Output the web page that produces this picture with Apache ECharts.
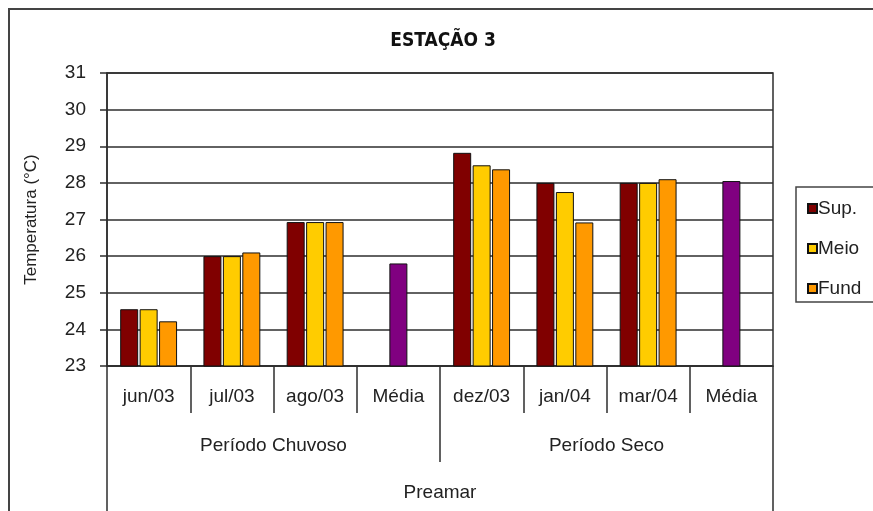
<!DOCTYPE html>
<html>
<head>
<meta charset="utf-8">
<script src="https://cdn.jsdelivr.net/npm/echarts@6/dist/echarts.min.js"></script>
<style>
  html, body { margin: 0; padding: 0; background: #fff; }
  #chart { width: 873px; height: 511px; }
</style>
</head>
<body>
<div id="chart"></div>
<script>
// Water temperature by depth, station 3, high tide (Preamar)
const months = ['jun/03', 'jul/03', 'ago/03', 'Média', 'dez/03', 'jan/04', 'mar/04', 'Média'];
const periods = ['Período Chuvoso', 'Período Seco'];
const tide = ['Preamar'];

const supValues = [24.55, 26.0, 26.93, null, 28.82, 28.0, 28.0, null];
const meioValues = [24.55, 26.0, 26.93, 25.8, 28.48, 27.75, 28.0, 28.05];
const fundValues = [24.22, 26.1, 26.93, null, 28.37, 26.92, 28.1, null];

// positions of the period averages inside the middle series
const averageIndexes = [3, 7];

const COLORS = { sup: '#800000', meio: '#FFCC00', fund: '#FF9900', media: '#800080' };
const FONT = '"Liberation Sans", Arial, sans-serif';
const LINE = '#2e2e2e';

const meioData = meioValues.map((v, i) =>
  averageIndexes.includes(i)
    ? { value: v, itemStyle: { color: COLORS.media } }
    : v
);

const barBase = { type: 'bar', barWidth: 18, barGap: '8%', xAxisIndex: 0 };
const border = { borderColor: '#111', borderWidth: 1 };

const chart = echarts.init(document.getElementById('chart'), null, { renderer: 'canvas' });

chart.setOption({
  animation: false,
  backgroundColor: '#fff',
  title: {
    text: 'ESTAÇÃO 3',
    left: 438,
    top: 27,
    textAlign: 'center',
    textStyle: {
      fontFamily: '"Liberation Sans Narrow", "DejaVu Sans Condensed", Arial, sans-serif',
      fontWeight: 'bold',
      fontSize: 19,
      color: '#111'
    }
  },
  grid: {
    left: 107, right: 100, top: 73, bottom: 145,
    show: true, borderColor: LINE, borderWidth: 1.5, backgroundColor: '#fff'
  },
  legend: {
    orient: 'vertical',
    left: 802,
    top: 194,
    itemWidth: 9,
    itemHeight: 9,
    itemGap: 21,
    icon: 'rect',
    selectedMode: false,
    textStyle: { fontFamily: FONT, fontSize: 19, color: '#222', padding: [0, 0, 0, -4], lineHeight: 18 },
    data: ['Sup.', 'Meio', 'Fund']
  },
  xAxis: [
    {
      type: 'category',
      data: months,
      position: 'bottom',
      axisLine: { lineStyle: { color: LINE, width: 1.5 } },
      axisTick: { show: true, interval: 0, length: 47, lineStyle: { color: LINE, width: 1.5 } },
      axisLabel: { interval: 0, margin: 21, fontFamily: FONT, fontSize: 19, color: '#222' }
    },
    {
      type: 'category',
      data: periods,
      position: 'bottom',
      axisLine: { show: false },
      axisTick: { show: true, interval: 0, length: 96, lineStyle: { color: LINE, width: 1.5 } },
      axisLabel: { interval: 0, margin: 70, fontFamily: FONT, fontSize: 19, color: '#222' }
    },
    {
      type: 'category',
      data: tide,
      position: 'bottom',
      axisLine: { show: false },
      axisTick: { show: true, interval: 0, length: 160, lineStyle: { color: LINE, width: 1.5 } },
      axisLabel: { interval: 0, margin: 117, fontFamily: FONT, fontSize: 19, color: '#222' }
    }
  ],
  yAxis: {
    type: 'value',
    min: 23,
    max: 31,
    interval: 1,
    name: 'Temperatura (°C)',
    nameLocation: 'middle',
    nameRotate: 90,
    nameGap: 67,
    nameTextStyle: { fontFamily: FONT, fontSize: 17, color: '#222' },
    axisLine: { show: true, lineStyle: { color: LINE, width: 1.5 } },
    axisTick: { show: true, length: 7, lineStyle: { color: LINE, width: 1.5 } },
    axisLabel: { margin: 21, fontFamily: FONT, fontSize: 19, color: '#222' },
    splitLine: { show: true, lineStyle: { color: LINE, width: 1.5 } }
  },
  series: [
    Object.assign({}, barBase, { name: 'Sup.', data: supValues, itemStyle: Object.assign({ color: COLORS.sup }, border) }),
    Object.assign({}, barBase, { name: 'Meio', data: meioData, itemStyle: Object.assign({ color: COLORS.meio }, border) }),
    Object.assign({}, barBase, { name: 'Fund', data: fundValues, itemStyle: Object.assign({ color: COLORS.fund }, border) })
  ],
  graphic: [
    {
      type: 'rect',
      z: 100,
      silent: true,
      shape: { x: 9, y: 9, width: 900, height: 600 },
      style: { fill: 'none', stroke: '#444', lineWidth: 2 }
    },
    {
      type: 'rect',
      z: -1,
      silent: true,
      shape: { x: 796, y: 187, width: 100, height: 115 },
      style: { fill: '#fff', stroke: '#444', lineWidth: 1.5 }
    }
  ]
});
</script>
</body>
</html>
